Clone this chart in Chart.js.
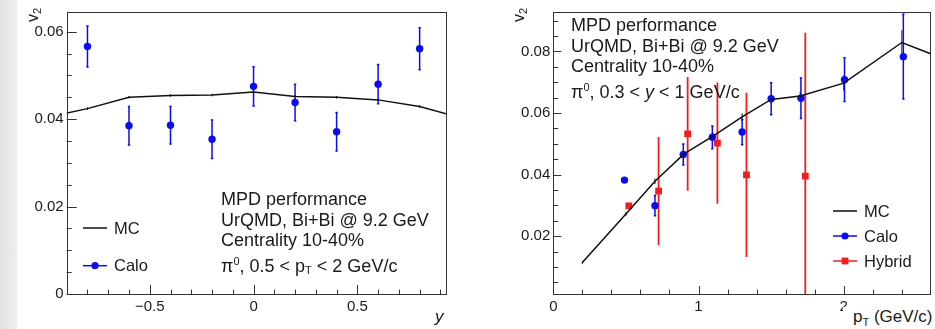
<!DOCTYPE html>
<html>
<head>
<meta charset="utf-8">
<script src="https://cdn.jsdelivr.net/npm/chart.js@4.4.1/dist/chart.umd.min.js"></script>
<style>
  body{margin:0;background:#fff}
  #page{position:relative;width:935px;height:329px;overflow:hidden;background:#fff;
        font-family:"Liberation Sans",Arial,sans-serif;color:#1a1a1a}
  #strip{position:absolute;left:0;top:0;width:17px;height:329px;
         background:linear-gradient(to right,#e2e2e2,#eeeeee)}
  canvas{position:absolute;top:0}
  .note{position:absolute;font-size:18px;line-height:20.7px;white-space:nowrap}
  .note sub{font-size:11px;vertical-align:-2px}
  .note sup{font-size:11px;vertical-align:7px}
  .vt{position:absolute;font-size:16px;white-space:nowrap;transform:translate(-50%,-50%) rotate(-90deg)}
  .vt sub{font-size:11px;vertical-align:-3px}
  .xt{position:absolute;font-size:17px;white-space:nowrap}
  .xt sub{font-size:11px;vertical-align:-4px}
</style>
</head>
<body>
<div id="page">
  <div id="strip"></div>
  <canvas id="left" width="470" height="329" style="left:0"></canvas>
  <canvas id="right" width="465" height="329" style="left:470px"></canvas>

  <div class="vt" style="left:33px;top:15px">v<sub>2</sub></div>
  <div class="vt" style="left:519px;top:15px">v<sub>2</sub></div>
  <div class="xt" style="left:435px;top:307px;font-style:italic">y</div>
  <div class="xt" style="left:843px;top:307px;background:#fff;padding-left:10px;padding-right:4px">p<sub>T</sub> (GeV/c)</div>

  <div class="note" style="left:221px;top:189px">
    MPD performance<br>
    UrQMD, Bi+Bi @ 9.2 GeV<br>
    Centrality 10-40%<br>
    π<sup>0</sup>, 0.5 &lt; p<sub>T</sub> &lt; 2 GeV/c
  </div>
  <div class="note" style="left:571px;top:15px">
    MPD performance<br>
    UrQMD, Bi+Bi @ 9.2 GeV<br>
    Centrality 10-40%<br>
    π<sup>0</sup>, 0.3 &lt; <i>y</i> &lt; 1 GeV/c
  </div>
</div>

<script>
// ---- left panel: v2 vs rapidity y ----
const leftCaloX = [-0.8, -0.6, -0.4, -0.2, 0, 0.2, 0.4, 0.6, 0.8];
const leftCalo = [0.0566, 0.0385, 0.0386, 0.0354, 0.0475, 0.0438, 0.0371, 0.0480, 0.0561];
const leftCaloErr = [0.0047, 0.0044, 0.0043, 0.0044, 0.0045, 0.0042, 0.0044, 0.0045, 0.0048];
const leftMcX = [-1.0, -0.8, -0.6, -0.4, -0.2, 0, 0.2, 0.4, 0.6, 0.8, 1.0];
const leftMc = [0.0404, 0.0424, 0.0450, 0.0454, 0.0455, 0.0462, 0.0452, 0.0450, 0.0444, 0.0429, 0.0403];
const leftMcErr = [0.0003, 0.0003, 0.0003, 0.0003, 0.0003, 0.0003, 0.0003, 0.0003, 0.0003, 0.0003, 0.0003];
const leftXTicks = [-0.5, 0, 0.5];
const leftXLabels = ['\u22120.5', '0', '0.5'];
const leftYTicks = [0, 0.02, 0.04, 0.06];
const leftYLabels = ['0', '0.02', '0.04', '0.06'];

// ---- right panel: v2 vs pT ----
const rightCaloX = [0.49, 0.70, 0.895, 1.095, 1.30, 1.50, 1.705, 2.005, 2.41];
const rightCalo = [0.0382, 0.0299, 0.0465, 0.0521, 0.0538, 0.0646, 0.0648, 0.0708, 0.0783];
const rightCaloErr = [0, 0.0033, 0.0034, 0.0037, 0.0041, 0.0052, 0.0066, 0.0071, 0.0138];
const rightHybX = [0.52, 0.725, 0.925, 1.13, 1.33, 1.735];
const rightHyb = [0.0298, 0.0346, 0.0532, 0.0502, 0.0399, 0.0395];
const rightHybErr = [0, 0.0176, 0.0185, 0.0197, 0.0267, 0.0466];
const rightMcX = [0.2, 0.5, 0.7, 0.9, 1.1, 1.3, 1.5, 1.7, 2.0, 2.4, 2.8];
const rightMc = [0.0114, 0.0272, 0.0378, 0.0467, 0.0525, 0.0587, 0.0644, 0.0655, 0.0697, 0.0829, 0.0755];
const rightMcErr = [0.0005, 0.0006, 0.0009, 0.0009, 0.001, 0.0012, 0.0013, 0.0015, 0.0025, 0.004, 0.005];
const rightXTicks = [0, 1, 2];
const rightXLabels = ['0', '1', '2'];
const rightYTicks = [0.02, 0.04, 0.06, 0.08];
const rightYLabels = ['0.02', '0.04', '0.06', '0.08'];

const BLUE = '#0c0cf0';
const RED = '#f01e1e';
const FONT = '"Liberation Sans", Arial, sans-serif';

function pts(xs, ys) { return xs.map((x, i) => ({x: x, y: ys[i]})); }

// error bars, inner tick marks, frame and legend in ROOT style
const rootStyle = {
  id: 'rootStyle',
  beforeDatasetsDraw(chart) {
    const ctx = chart.ctx, a = chart.chartArea;
    const xs = chart.scales.x, ys = chart.scales.y;
    ctx.save();
    ctx.beginPath();
    ctx.rect(a.left, a.top, a.right - a.left, a.bottom - a.top);
    ctx.clip();
    chart.data.datasets.forEach(ds => {
      if (!ds.yErr) return;
      ctx.strokeStyle = ds.borderColor;
      ctx.lineWidth = ds.errWidth || 1.5;
      ds.data.forEach((p, i) => {
        const e = ds.yErr[i];
        if (!e) return;
        const px = xs.getPixelForValue(p.x);
        const y1 = ys.getPixelForValue(p.y - e), y2 = ys.getPixelForValue(p.y + e);
        ctx.beginPath();
        ctx.moveTo(px, y1); ctx.lineTo(px, y2);
        if (ds.cap) {
          ctx.moveTo(px - ds.cap, y1); ctx.lineTo(px + ds.cap, y1);
          ctx.moveTo(px - ds.cap, y2); ctx.lineTo(px + ds.cap, y2);
        }
        ctx.stroke();
      });
    });
    ctx.restore();
  },
  afterDraw(chart, args, opts) {
    const ctx = chart.ctx, a = chart.chartArea;
    const xs = chart.scales.x, ys = chart.scales.y;
    ctx.save();
    ctx.strokeStyle = '#333';
    ctx.lineWidth = 1;
    ctx.strokeRect(Math.round(a.left) + 0.5, Math.round(a.top) + 0.5,
                   Math.round(a.right - a.left), Math.round(a.bottom - a.top));
    // minor / major ticks pointing inward
    ctx.beginPath();
    const isMajor = (v, list) => list.some(m => Math.abs(m - v) < 1e-9);
    const x0 = Math.ceil(xs.min / opts.xMinor - 1e-6);
    for (let k = x0; k * opts.xMinor <= xs.max + 1e-9; k++) {
      const v = k * opts.xMinor;
      const px = Math.round(xs.getPixelForValue(v)) + 0.5;
      const len = isMajor(v, opts.xMajor) ? opts.xMajorLen : opts.xMinorLen;
      ctx.moveTo(px, a.bottom); ctx.lineTo(px, a.bottom - len);
    }
    const y0 = Math.ceil(ys.min / opts.yMinor - 1e-6);
    for (let k = y0; k * opts.yMinor <= ys.max + 1e-9; k++) {
      const v = k * opts.yMinor;
      const py = Math.round(ys.getPixelForValue(v)) + 0.5;
      const len = isMajor(v, opts.yMajor) ? opts.yMajorLen : opts.yMinorLen;
      ctx.moveTo(a.left, py); ctx.lineTo(a.left + len, py);
    }
    ctx.stroke();

    // legend
    const lg = opts.legend;
    ctx.font = '16.5px ' + FONT;
    ctx.textBaseline = 'middle';
    chart.data.datasets.forEach((ds, i) => {
      const y = lg.y + i * lg.dy;
      ctx.strokeStyle = ds.borderColor;
      ctx.fillStyle = ds.borderColor;
      ctx.lineWidth = 1.5;
      ctx.beginPath();
      ctx.moveTo(lg.x, y); ctx.lineTo(lg.x + lg.len, y);
      ctx.stroke();
      const cx = lg.x + lg.len / 2;
      if (ds.pointStyle === 'circle') {
        ctx.beginPath(); ctx.arc(cx, y, 3.6, 0, Math.PI * 2); ctx.fill();
      } else if (ds.pointStyle === 'rect') {
        ctx.fillRect(cx - 3.4, y - 3.4, 6.8, 6.8);
      }
      ctx.fillStyle = '#1a1a1a';
      ctx.fillText(ds.label, lg.x + lg.len + 7, y + 1);
    });
    ctx.restore();
  }
};

function makeScales(cfg) {
  const tickFont = {family: FONT, size: 15};
  return {
    x: {
      type: 'linear', min: cfg.xMin, max: cfg.xMax,
      grid: {display: false, drawTicks: false}, border: {display: false},
      afterBuildTicks: s => { s.ticks = cfg.xTicks.map(v => ({value: v})); },
      afterFit: s => { s.height = cfg.xHeight; },
      ticks: {font: tickFont, color: '#1a1a1a', padding: 4, maxRotation: 0,
              callback: (v) => cfg.xLabels[cfg.xTicks.indexOf(v)]}
    },
    y: {
      type: 'linear', min: cfg.yMin, max: cfg.yMax,
      grid: {display: false, drawTicks: false}, border: {display: false},
      afterBuildTicks: s => { s.ticks = cfg.yTicks.map(v => ({value: v})); },
      afterFit: s => { s.width = cfg.yWidth; },
      ticks: {font: tickFont, color: '#1a1a1a', padding: 3,
              callback: (v) => cfg.yLabels[cfg.yTicks.indexOf(v)]}
    }
  };
}

new Chart(document.getElementById('left').getContext('2d'), {
  type: 'scatter',
  data: {
    datasets: [
      {label: 'MC', data: pts(leftMcX, leftMc), yErr: leftMcErr, errWidth: 1,
       showLine: true, borderColor: '#111', backgroundColor: '#111', borderWidth: 1.5,
       pointStyle: false, pointRadius: 0},
      {label: 'Calo', data: pts(leftCaloX, leftCalo), yErr: leftCaloErr, errWidth: 1.5, cap: 1.2,
       showLine: false, borderColor: BLUE, backgroundColor: BLUE,
       pointStyle: 'circle', pointRadius: 3.7, borderWidth: 0}
    ]
  },
  options: {
    responsive: false, animation: false, events: [],
    layout: {padding: {left: 0, right: 24, top: 9, bottom: 0}},
    plugins: {
      legend: {display: false}, tooltip: {enabled: false},
      rootStyle: {xMinor: 0.1, xMajor: leftXTicks, xMajorLen: 9, xMinorLen: 4.5,
                  yMinor: 0.005, yMajor: leftYTicks, yMajorLen: 10, yMinorLen: 5,
                  legend: {x: 83, y: 228, dy: 37.7, len: 24}}
    },
    scales: makeScales({xMin: -0.9, xMax: 0.927, yMin: 0, yMax: 0.0645,
                        xTicks: leftXTicks, xLabels: leftXLabels, yTicks: leftYTicks, yLabels: leftYLabels,
                        xHeight: 35, yWidth: 66.7})
  },
  plugins: [rootStyle]
});

new Chart(document.getElementById('right').getContext('2d'), {
  type: 'scatter',
  data: {
    datasets: [
      {label: 'MC', data: pts(rightMcX, rightMc), yErr: rightMcErr, errWidth: 1,
       showLine: true, borderColor: '#111', backgroundColor: '#111', borderWidth: 1.5,
       pointStyle: false, pointRadius: 0},
      {label: 'Calo', data: pts(rightCaloX, rightCalo), yErr: rightCaloErr, errWidth: 1.5, cap: 1.2,
       showLine: false, borderColor: BLUE, backgroundColor: BLUE,
       pointStyle: 'circle', pointRadius: 3.7, borderWidth: 0},
      {label: 'Hybrid', data: pts(rightHybX, rightHyb), yErr: rightHybErr, errWidth: 1.8,
       showLine: false, borderColor: RED, backgroundColor: RED,
       pointStyle: 'rect', pointRadius: 4.8, borderWidth: 0}
    ]
  },
  options: {
    responsive: false, animation: false, events: [],
    layout: {padding: {left: 0, right: 2.3, top: 9, bottom: 0}},
    plugins: {
      legend: {display: false}, tooltip: {enabled: false},
      rootStyle: {xMinor: 0.2, xMajor: rightXTicks, xMajorLen: 8, xMinorLen: 4.5,
                  yMinor: 0.005, yMajor: rightYTicks, yMajorLen: 8, yMinorLen: 5,
                  legend: {x: 363, y: 211, dy: 25, len: 24}}
    },
    scales: makeScales({xMin: 0, xMax: 2.595, yMin: 0.0012, yMax: 0.0928,
                        xTicks: rightXTicks, xLabels: rightXLabels, yTicks: rightYTicks, yLabels: rightYLabels,
                        xHeight: 35, yWidth: 83.3})
  },
  plugins: [rootStyle]
});
</script>
</body>
</html>
